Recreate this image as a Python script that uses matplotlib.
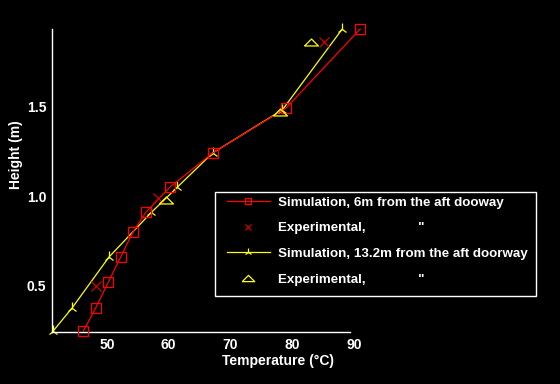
import matplotlib
matplotlib.use("Agg")
import matplotlib.pyplot as plt
from matplotlib.patches import Rectangle
from matplotlib.lines import Line2D

# Data
sim6_T = [46.2, 48.2, 50.2, 52.2, 54.2, 56.3, 60.2, 67.1, 79.0, 91.0]
sim6_h = [0.25, 0.38, 0.52, 0.66, 0.80, 0.91, 1.05, 1.24, 1.49, 1.93]
exp6_T = [48.3, 58.2, 85.1]
exp6_h = [0.50, 0.99, 1.86]
sim13_T = [41.3, 44.4, 50.3, 57.2, 61.4, 67.1, 78.4, 88.1]
sim13_h = [0.25, 0.38, 0.66, 0.91, 1.05, 1.24, 1.48, 1.93]
exp13_T = [59.6, 78.0, 83.0]
exp13_h = [0.98, 1.47, 1.86]
xticks = [50, 60, 70, 80, 90]
yticks = [0.5, 1.0, 1.5]
labels = ["Simulation, 6m from the aft dooway",
          "Experimental,              \"",
          "Simulation, 13.2m from the aft doorway",
          "Experimental,              \""]

plt.rcParams['font.family'] = ["Liberation Sans", "DejaVu Sans"]
plt.rcParams['font.weight'] = 'bold'

W, H = 560, 384
fig = plt.figure(figsize=(5.6, 3.84), dpi=100, facecolor='black')
x0, x1 = 52, 354
y0, y1 = 332, 29
ax = fig.add_axes([x0 / W, (H - y0) / H, (x1 - x0) / W, (y0 - y1) / H])
ax.set_facecolor('black')
ax.set_xlim(41.1, 90)
ax.set_ylim(0.244, 1.93)

tri = [(-1, -0.5), (1, -0.5), (0, 0.5), (-1, -0.5)]
RED, XRED, YEL = '#ff0000', '#cc0000', '#ffff00'

ax.plot(sim6_T, sim6_h, color=RED, lw=0.9, marker='s', ms=6.5,
        mfc='none', mec=RED, mew=0.9, clip_on=False, zorder=3)
ax.plot(exp6_T, exp6_h, ls='none', marker='x', ms=6.5, color=XRED,
        mew=0.9, clip_on=False, zorder=4)
ax.plot(sim13_T, sim13_h, color=YEL, lw=0.9, marker='2', ms=8,
        mew=0.9, clip_on=False, zorder=2)
ax.plot(exp13_T, exp13_h, ls='none', marker=tri, ms=10, mfc='none',
        mec=YEL, mew=0.9, clip_on=False, zorder=4)

for s in ['top', 'right']:
    ax.spines[s].set_visible(False)
for s in ['left', 'bottom']:
    ax.spines[s].set_color('white')
    ax.spines[s].set_linewidth(1)
ax.spines['bottom'].set_bounds(41.1, 89.4)

ax.set_xticks(xticks)
ax.set_yticks(yticks)
ax.set_xticklabels([str(t) for t in xticks])
ax.set_yticklabels([f"{t:.1f}" for t in yticks])
ax.tick_params(colors='white', length=0, labelsize=10, pad=4)
for lab in ax.get_xticklabels() + ax.get_yticklabels():
    lab.set_fontweight('bold')

fig.text(16 / W, 1 - 155 / H, "Height (m)", rotation=90, color='white',
         fontsize=10, fontweight='bold', ha='center', va='center')
fig.text(278 / W, 1 - 361 / H, "Temperature (\u00b0C)", color='white',
         fontsize=10, fontweight='bold', ha='center', va='center')

# legend frame
fig.patches.append(Rectangle((215 / W, 1 - 296 / H), (536 - 215) / W, (296 - 192) / H,
                             transform=fig.transFigure, facecolor='black',
                             edgecolor='white', lw=1, zorder=5))

h1 = Line2D([], [], color=RED, lw=0.9, marker='s', ms=4, mfc='none', mec=RED, mew=0.9)
h2 = Line2D([], [], ls='none', marker='x', ms=5, color=XRED, mew=0.9)
h3 = Line2D([], [], color=YEL, lw=0.9, marker='2', ms=6, mew=0.9)
h4 = Line2D([], [], ls='none', marker=tri, ms=9, mfc='none', mec=YEL, mew=0.9)

leg = fig.legend([h1, h2, h3, h4], labels,
                 loc='upper left', bbox_to_anchor=(227 / W, 1 - 196.5 / H),
                 frameon=False, fontsize=9.6,
                 handlelength=3.2, handletextpad=0.6, labelspacing=1.0,
                 borderpad=0, borderaxespad=0)
leg.set_zorder(6)
for t in leg.get_texts():
    t.set_color('white')
    t.set_fontweight('bold')

fig.savefig('out.png', dpi=100, facecolor='black')
